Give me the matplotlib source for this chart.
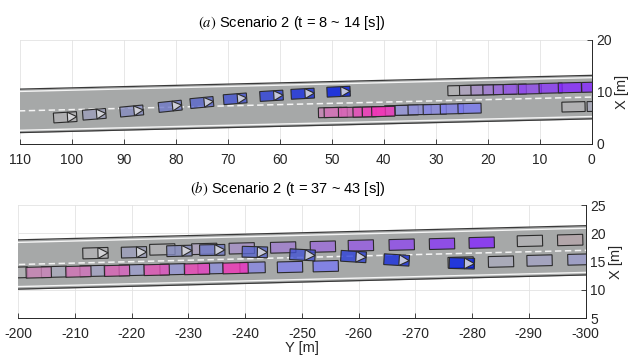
import numpy as np
import matplotlib
matplotlib.use("Agg")
import matplotlib.pyplot as plt
from matplotlib.patches import Polygon

plt.rcParams['font.family'] = ['Liberation Sans', 'DejaVu Sans']
plt.rcParams['mathtext.fontset'] = 'stix'
plt.rcParams['axes.unicode_minus'] = False

# ---------------- panel (a) data ----------------
a_title = r"$(a)$ Scenario 2 (t = 8 ~ 14 [s])"
a_xticks = [0, 10, 20, 30, 40, 50, 60, 70, 80, 90, 100, 110]
a_yticks = [0, 10, 20]
a_road_x = [115, -5]
a_road_c = [6.2, 9.1]
a_road_half = 4.2

a_ego_x = [101.3, 95.7, 88.5, 81.1, 75.0, 68.6, 61.6, 55.6, 48.7]
a_ego_y = [5.08, 5.66, 6.29, 7.2, 7.93, 8.65, 9.23, 9.63, 10.02]
a_ego_h = [3.5, 4.5, 5.5, 6.0, 5.5, 4.5, 3.5, 3.0, 2.5]
a_ego_step = [0, 1, 2, 3, 4, 5, 6, 7, 8]

a_pink_x = [50.35, 49.25, 46.5, 43.7, 41.9, 40.1]
a_pink_y = [6.0, 6.02, 6.05, 6.1, 6.15, 6.2]
a_pink_step = [3, 4, 5, 6, 7, 8]

a_lav_x = [37.6, 35.6, 33.1, 30.2, 26.9, 23.5]
a_lav_y = [6.4, 6.45, 6.55, 6.6, 6.7, 6.8]
a_lav_step = [3, 4, 5, 6, 7, 8]

a_vio_x = [25.45, 23.2, 21.0, 18.7, 16.7, 14.8, 11.9, 7.9, 4.2, -0.3]
a_vio_y = [10.25, 10.3, 10.35, 10.4, 10.45, 10.5, 10.55, 10.7, 10.8, 10.9]
a_vio_step = [0, 1, 2, 3, 4, 5, 6, 7, 8, 9]

a_lav2_x = [3.5, -1.35]
a_lav2_y = [7.1, 7.2]
a_lav2_step = [0, 1]

# ---------------- panel (b) data ----------------
b_title = r"$(b)$ Scenario 2 (t = 37 ~ 43 [s])"
b_xticks = [-200, -210, -220, -230, -240, -250, -260, -270, -280, -290, -300]
b_yticks = [5, 10, 15, 20, 25]
b_road_x = [-195, -305]
b_road_c = [14.375, 17.125]
b_road_half = 4.35

b_ego_x = [-213.6, -220.4, -228.4, -234.2, -241.7, -250.1, -259.1, -266.7, -278.2]
b_ego_y = [16.5, 16.65, 16.9, 17.05, 16.7, 16.2, 15.9, 15.3, 14.7]
b_ego_h = [1.5, 1.5, 1.5, 1.0, -1.5, -3.0, -3.5, -3.5, -1.5]
b_ego_step = [0, 1, 2, 3, 4, 5, 6, 7, 8]

b_vio_x = [-225.4, -232.8, -239.4, -246.7, -253.7, -260.4, -267.6, -274.7, -281.7]
b_vio_y = [17.15, 17.25, 17.35, 17.5, 17.65, 17.85, 18.0, 18.15, 18.35]
b_vio_step = [0, 1, 2, 3, 4, 5, 6, 7, 8]

b_gray_x = [-290.2, -297.3]
b_gray_y = [18.66, 18.82]
b_gray_step = [0, 1]

b_lav_x = [-199.4, -206.3, -213.1, -220.0, -227.2, -233.9, -241.3, -247.9, -254.2]
b_lav_y = [13.08, 13.2, 13.35, 13.5, 13.65, 13.8, 13.95, 14.05, 14.2]
b_lav_step = [0, 1, 2, 3, 4, 5, 6, 7, 8]

b_pink_x = [-203.6, -210.6, -217.4, -224.4, -231.5, -238.3]
b_pink_y = [13.1, 13.25, 13.4, 13.55, 13.7, 13.85]
b_pink_step = [3, 4, 5, 6, 7, 8]

b_lav2_x = [-278.0, -285.1, -291.9, -299.1]
b_lav2_y = [14.85, 15.0, 15.2, 15.38]
b_lav2_step = [0, 1, 2, 3]

# ---------------- styles ----------------
N_STEP = 8
GRAY = np.array([0.70, 0.70, 0.71])
C_BLUE = np.array([0.0, 0.10, 0.90])
C_PINK = np.array([0.95, 0.20, 0.72])
C_LAV = np.array([0.48, 0.48, 0.95])
C_VIO = np.array([0.52, 0.15, 1.0])
C_MAUVE = np.array([0.85, 0.30, 0.40])
ROAD = '#a6a8a8'
EDGE = '#2b2b2b'
ALPHA = 0.8
LEN, WID = 4.45, 1.9


def road(ax, rx, rc, half):
    rx = np.asarray(rx, float)
    rc = np.asarray(rc, float)
    ax.fill_between(rx, rc - half, rc + half, color=ROAD, lw=0, zorder=1)
    ax.plot(rx, rc + half, color='#3a3a3a', lw=0.9, zorder=2)
    ax.plot(rx, rc - half, color='#3a3a3a', lw=0.9, zorder=2)
    ax.plot(rx, rc + half - 0.45, color='#f4f4f4', lw=1.0, zorder=2)
    ax.plot(rx, rc - half + 0.45, color='#f4f4f4', lw=1.0, zorder=2)
    ax.plot(rx, rc, color='#f4f4f4', lw=1.1, ls=(0, (4.2, 2.3)), zorder=2)
    return np.degrees(np.arctan((rc[1] - rc[0]) / (rx[0] - rx[1])))


def vehicle(ax, x, y, h_deg, face, ego):
    h = np.radians(h_deg)
    f = np.array([-np.cos(h), np.sin(h)])
    n = np.array([np.sin(h), np.cos(h)])
    c = np.array([x, y])
    pts = [c - f * LEN / 2 - n * WID / 2, c + f * LEN / 2 - n * WID / 2,
           c + f * LEN / 2 + n * WID / 2, c - f * LEN / 2 + n * WID / 2]
    ax.add_patch(Polygon(pts, closed=True, facecolor=(*face, ALPHA),
                         edgecolor=EDGE, lw=0.8, zorder=4))
    if ego:
        b = c + f * LEN * 0.1
        tri = [b - n * WID / 2, c + f * LEN / 2, b + n * WID / 2]
        ax.add_patch(Polygon(tri, closed=True, facecolor=(0.86, 0.86, 0.87, 0.85),
                             edgecolor=EDGE, lw=0.8, zorder=4))


def group(ax, xs, ys, steps, base, heading, ego=False):
    hs = heading if np.ndim(heading) else [heading] * len(xs)
    for x, y, s, h in zip(xs, ys, steps, hs):
        w = min(s / N_STEP, 1.0)
        face = tuple((1 - w) * GRAY + w * base)
        vehicle(ax, x, y, h, face, ego)


def style(ax, xlim, ylim, xt, yt, title):
    ax.set_xlim(*xlim)
    ax.set_ylim(*ylim)
    ax.set_xticks(xt)
    ax.set_yticks(yt)
    ax.yaxis.tick_right()
    ax.yaxis.set_label_position('right')
    ax.spines['top'].set_visible(False)
    ax.spines['left'].set_visible(False)
    for s in ['right', 'bottom']:
        ax.spines[s].set_color('#262626')
        ax.spines[s].set_linewidth(0.7)
    ax.tick_params(direction='in', length=3.5, width=0.6, colors='#262626',
                   labelsize=10)
    ax.tick_params(axis='x', pad=6.5)
    ax.tick_params(axis='y', pad=3.5)
    ax.grid(True, color='#e3e3e3', lw=0.6)
    ax.set_axisbelow(True)
    ax.set_ylabel('X [m]', fontsize=10.5, color='#262626', labelpad=2)
    ax.set_title(title, fontsize=10.5, x=0.475, pad=9)


fig = plt.figure(figsize=(6.3, 3.6), dpi=100)
ax1 = fig.add_axes([0.0317, 0.6011, 0.9075, 0.2878])
ax2 = fig.add_axes([0.02905, 0.11583, 0.90032, 0.31472])

# panel (a)
ang = road(ax1, a_road_x, a_road_c, a_road_half)
group(ax1, a_lav_x, a_lav_y, a_lav_step, C_LAV, ang)
group(ax1, a_pink_x, a_pink_y, a_pink_step, C_PINK, ang)
group(ax1, a_vio_x, a_vio_y, a_vio_step, C_VIO, ang)
group(ax1, a_lav2_x, a_lav2_y, a_lav2_step, C_LAV, ang)
group(ax1, a_ego_x, a_ego_y, a_ego_step, C_BLUE, a_ego_h, ego=True)
style(ax1, (110, 0), (0, 20), a_xticks, a_yticks, a_title)

# panel (b)
ang = road(ax2, b_road_x, b_road_c, b_road_half)
group(ax2, b_lav_x, b_lav_y, b_lav_step, C_LAV, ang)
group(ax2, b_pink_x, b_pink_y, b_pink_step, C_PINK, ang)
group(ax2, b_vio_x, b_vio_y, b_vio_step, C_VIO, ang)
group(ax2, b_gray_x, b_gray_y, b_gray_step, C_MAUVE, ang)
group(ax2, b_lav2_x, b_lav2_y, b_lav2_step, C_LAV, ang)
group(ax2, b_ego_x, b_ego_y, b_ego_step, C_BLUE, b_ego_h, ego=True)
style(ax2, (-200, -300), (5, 25), b_xticks, b_yticks, b_title)
ax2.set_xlabel('Y [m]', fontsize=10.5, color='#262626', labelpad=0)

fig.savefig('out.png', dpi=100)
